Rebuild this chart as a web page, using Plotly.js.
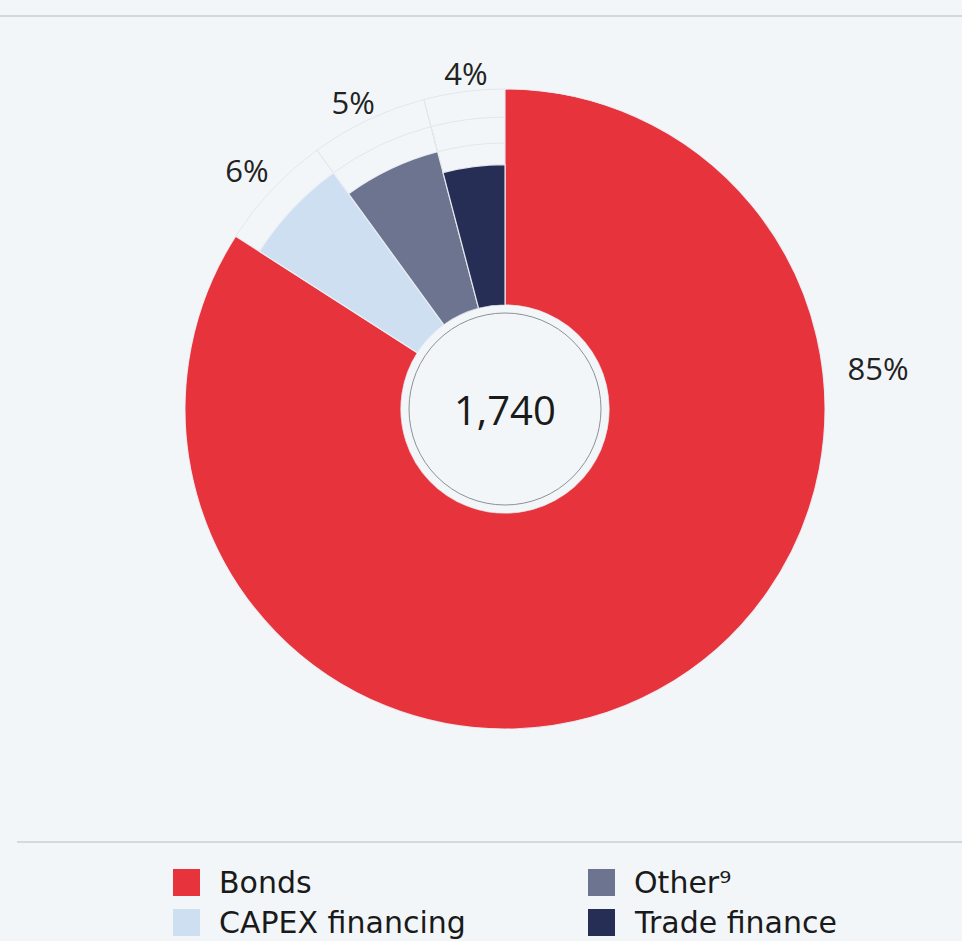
<!DOCTYPE html>
<html>
<head>
<meta charset="utf-8">
<script src="https://cdn.plot.ly/plotly-3.0.1.min.js"></script>
<style>
  html, body { margin: 0; padding: 0; background: #f2f6f9; }
  #chart { width: 962px; height: 941px; }
</style>
</head>
<body>
<div id="chart"></div>
<script>
// ---- Data ----
const categories = ['Bonds', 'CAPEX financing', 'Other', 'Trade finance'];
const legendText = ['Bonds', 'CAPEX financing', 'Other\u2079', 'Trade finance'];
const amounts = [1463, 103, 103, 71];          // sums to 1,740
const pctLabels = ['85%', '6%', '5%', '4%'];
const totalLabel = '1,740';
const tiers = [1, 0.87, 0.75, 0.65];           // stepped ring height of each slice
const colors = ['#e6333c', '#cddff0', '#6c7490', '#272e55'];

// ---- Geometry helpers ----
const W = 962, H = 941;
const px = x => x / W;
const py = y => 1 - y / H;

const total = amounts.reduce((a, b) => a + b, 0);
const widths = amounts.map(v => v / total * 360);
const starts = [];
let acc = 0;
widths.forEach(w => { starts.push(acc); acc += w; });
const centers = widths.map((w, i) => starts[i] + w / 2);

// ghost outlines of the higher steps above each smaller slice
const gTheta = [], gWidth = [], gR = [];
for (let i = 1; i < categories.length; i++) {
  for (let j = 0; j < i; j++) {
    gTheta.push(centers[i]); gWidth.push(widths[i]); gR.push(tiers[j]);
  }
}

// label placement (outside the ring)
const labelTheta = [84.3, 312.3, 333.4, 353.3];
const labelR = [1.254, 1.134, 1.088, 1.066];

const traces = [
  {
    type: 'barpolar',
    r: gR, theta: gTheta, width: gWidth,
    marker: { color: 'rgba(0,0,0,0)', line: { color: '#e3e6ea', width: 1 } },
    hoverinfo: 'skip', showlegend: false
  },
  {
    type: 'barpolar',
    r: tiers, theta: centers, width: widths,
    text: categories,
    marker: { color: colors, line: { color: 'rgba(236,241,246,0.9)', width: 1.2 } },
    hovertemplate: '%{text}<extra></extra>',
    showlegend: false
  },
  {
    type: 'scatterpolar',
    mode: 'text',
    r: labelR, theta: labelTheta,
    text: pctLabels,
    textposition: 'middle center',
    textfont: { family: 'Open Sans, sans-serif', size: 31, color: '#222' },
    cliponaxis: false,
    hoverinfo: 'skip', showlegend: false
  }
];

// legend drawn manually (column-major 2x2)
const legX = [173, 173, 588, 588];
const legY = [869, 909, 869, 909];
const shapes = [
  { type: 'line', xref: 'paper', yref: 'paper', x0: 0, x1: 1, y0: py(16), y1: py(16),
    line: { color: '#d3d9de', width: 2 } },
  { type: 'line', xref: 'paper', yref: 'paper', x0: px(17), x1: 1, y0: py(842), y1: py(842),
    line: { color: '#d3d9de', width: 2 } },
  { type: 'circle', xref: 'paper', yref: 'paper', xsizemode: 'pixel', ysizemode: 'pixel',
    xanchor: px(505), yanchor: py(409), x0: -96, x1: 96, y0: -96, y1: 96,
    line: { color: '#8c9196', width: 1 } }
];
const annotations = [
  { x: px(505), y: py(409), xref: 'paper', yref: 'paper', text: totalLabel, showarrow: false,
    xanchor: 'center', yanchor: 'middle',
    font: { family: 'Open Sans, sans-serif', size: 40, color: '#1a1a1a' } }
];
categories.forEach((c, i) => {
  shapes.push({ type: 'rect', xref: 'paper', yref: 'paper',
    x0: px(legX[i]), x1: px(legX[i] + 27), y0: py(legY[i] + 27), y1: py(legY[i]),
    fillcolor: colors[i], line: { width: 0 } });
  annotations.push({ x: px(legX[i] + 44), y: py(legY[i] + 13.5), xref: 'paper', yref: 'paper',
    text: legendText[i], showarrow: false, xanchor: 'left', yanchor: 'middle',
    font: { family: 'DejaVu Sans, sans-serif', size: 30, color: '#1a1a1a' } });
});

const cx = 505, cy = 409, holePx = 104, outerPx = 104 + 1.3 * 216;
const layout = {
  width: W, height: H,
  margin: { l: 0, r: 0, t: 0, b: 0 },
  paper_bgcolor: '#f2f6f9',
  plot_bgcolor: '#f2f6f9',
  showlegend: false,
  polar: {
    domain: { x: [px(cx - outerPx), px(cx + outerPx)], y: [py(cy + outerPx), py(cy - outerPx)] },
    hole: holePx / outerPx,
    bgcolor: 'rgba(0,0,0,0)',
    barmode: 'overlay',
    radialaxis: { range: [0, 1.3], visible: false, showgrid: false },
    angularaxis: { rotation: 90, direction: 'clockwise', visible: false, showgrid: false, showline: false }
  },
  shapes: shapes,
  annotations: annotations
};

Plotly.newPlot('chart', traces, layout, { displayModeBar: false, staticPlot: true });
</script>
</body>
</html>
